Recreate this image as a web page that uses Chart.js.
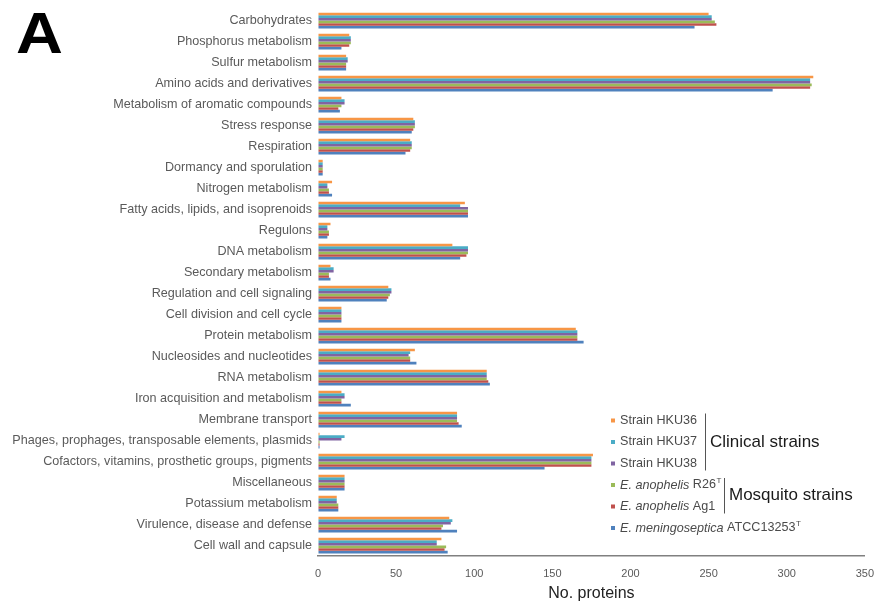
<!DOCTYPE html>
<html>
<head>
<meta charset="utf-8">
<script src="https://cdn.jsdelivr.net/npm/chart.js@4.4.1/dist/chart.umd.min.js"></script>
<style>
  html, body { margin: 0; padding: 0; background: #ffffff; }
  #wrap { width: 875px; height: 603px; }
</style>
</head>
<body>
<div id="wrap"><canvas id="c" width="875" height="603"></canvas></div>
<script>
// SEED subsystem categories, top to bottom
const categories = [
  'Carbohydrates',
  'Phosphorus metabolism',
  'Sulfur metabolism',
  'Amino acids and derivatives',
  'Metabolism of aromatic compounds',
  'Stress response',
  'Respiration',
  'Dormancy and sporulation',
  'Nitrogen metabolism',
  'Fatty acids, lipids, and isoprenoids',
  'Regulons',
  'DNA metabolism',
  'Secondary metabolism',
  'Regulation and cell signaling',
  'Cell division and cell cycle',
  'Protein metabolism',
  'Nucleosides and nucleotides',
  'RNA metabolism',
  'Iron acquisition and metabolism',
  'Membrane transport',
  'Phages, prophages, transposable elements, plasmids',
  'Cofactors, vitamins, prosthetic groups, pigments',
  'Miscellaneous',
  'Potassium metabolism',
  'Virulence, disease and defense',
  'Cell wall and capsule'
];

// Number of proteins per subsystem for each genome
const hku36 = [250, 20, 18, 317, 15, 61, 59, 3, 9, 94, 8, 86, 8, 45, 15, 165, 62, 108, 15, 89, 1, 176, 17, 12, 84, 79];
const hku37 = [252, 21, 19, 315, 17, 62, 60, 3, 6, 91, 6, 96, 10, 47, 15, 166, 59, 108, 17, 89, 17, 175, 17, 12, 86, 76];
const hku38 = [252, 21, 19, 315, 17, 62, 60, 3, 6, 96, 6, 96, 10, 47, 15, 166, 58, 108, 17, 89, 15, 175, 17, 12, 85, 76];
const r26   = [254, 21, 18, 316, 15, 62, 60, 3, 7, 96, 7, 96, 7, 46, 15, 166, 59, 108, 15, 89, 1, 175, 17, 13, 80, 82];
const ag1   = [255, 20, 18, 315, 13, 61, 59, 3, 7, 96, 7, 95, 7, 45, 15, 166, 59, 109, 15, 90, 1, 175, 17, 13, 79, 81];
const atcc  = [241, 15, 18, 291, 14, 60, 56, 3, 9, 96, 6, 91, 8, 44, 15, 170, 63, 110, 21, 92, 1, 145, 17, 13, 89, 83];

// Legend names: italic species part, upright strain part, type-strain superscript
const speciesNames = ['', '', '', 'E. anophelis', 'E. anophelis', 'E. meningoseptica'];
const strainNames  = ['Strain HKU36', 'Strain HKU37', 'Strain HKU38', 'R26', 'Ag1', 'ATCC13253'];
const typeMarks    = ['', '', '', 'T', '', 'T'];
const groupNames   = ['Clinical strains', 'Mosquito strains'];

// X axis
const xTicks = [0, 50, 100, 150, 200, 250, 300, 350];
const xTitle = 'No. proteins';
const panelLetter = 'A';

const seriesValues = [hku36, hku37, hku38, r26, ag1, atcc];
const seriesColors = ['#F79646', '#4BACC6', '#8064A2', '#9BBB59', '#C0504D', '#4F81BD'];
const FONT = '"Liberation Sans", Arial, Helvetica, sans-serif';

const datasets = seriesValues.map((vals, i) => ({
  label: (speciesNames[i] ? speciesNames[i] + ' ' : '') + strainNames[i] + typeMarks[i],
  data: vals,
  backgroundColor: seriesColors[i],
  borderWidth: 0,
  barPercentage: 1.0,
  categoryPercentage: 0.75
}));

// Strain legend with clinical / mosquito brackets, plus the panel letter
const strainLegend = {
  id: 'strainLegend',
  afterDraw(chart) {
    const ctx = chart.ctx;
    ctx.save();

    ctx.save();
    ctx.translate(16, 53);
    ctx.scale(1.12, 1);
    ctx.font = 'bold 58px ' + FONT;
    ctx.fillStyle = '#000000';
    ctx.textAlign = 'left';
    ctx.textBaseline = 'alphabetic';
    ctx.fillText(panelLetter, 0, 0);
    ctx.restore();

    const x0 = 613, y0 = 420.5, dy = 21.5;
    const rowY = i => y0 + i * dy;
    ctx.textAlign = 'left';
    ctx.textBaseline = 'middle';
    chart.data.datasets.forEach((ds, i) => {
      const y = rowY(i);
      ctx.fillStyle = ds.backgroundColor;
      ctx.fillRect(x0 - 2, y - 2, 4, 4);
      let x = x0 + 7;
      ctx.fillStyle = '#4a4a4a';
      if (speciesNames[i]) {
        ctx.font = 'italic 12.6px ' + FONT;
        const s = speciesNames[i] + ' ';
        ctx.fillText(s, x, y);
        x += ctx.measureText(s).width;
      }
      ctx.font = '12.6px ' + FONT;
      ctx.fillText(strainNames[i], x, y);
      x += ctx.measureText(strainNames[i]).width;
      if (typeMarks[i]) {
        ctx.font = '8px ' + FONT;
        ctx.fillText(typeMarks[i], x + 0.5, y - 4);
      }
    });

    const groups = [
      { name: groupNames[0], first: 0, last: 2, x: 705 },
      { name: groupNames[1], first: 3, last: 4, x: 724 }
    ];
    groups.forEach(g => {
      const yTop = rowY(g.first) - 7;
      const yBot = rowY(g.last) + 7;
      ctx.strokeStyle = '#555555';
      ctx.lineWidth = 1;
      ctx.beginPath();
      ctx.moveTo(g.x + 0.5, yTop);
      ctx.lineTo(g.x + 0.5, yBot);
      ctx.stroke();
      ctx.font = '17px ' + FONT;
      ctx.fillStyle = '#1a1a1a';
      ctx.fillText(g.name, g.x + 5, (rowY(g.first) + rowY(g.last)) / 2);
    });

    ctx.restore();
  }
};

new Chart(document.getElementById('c'), {
  type: 'bar',
  data: { labels: categories, datasets },
  plugins: [strainLegend],
  options: {
    indexAxis: 'y',
    responsive: false,
    animation: false,
    devicePixelRatio: 1,
    layout: { padding: { top: 10, left: 0, right: 0, bottom: 0 } },
    plugins: {
      legend: { display: false },
      tooltip: { enabled: false }
    },
    scales: {
      y: {
        type: 'category',
        grid: {
          display: true,
          drawOnChartArea: false,
          drawTicks: true,
          tickLength: 6,
          tickColor: 'rgba(0,0,0,0)',
          color: 'rgba(0,0,0,0)'
        },
        border: { display: false },
        ticks: {
          font: { family: FONT, size: 12.6 },
          color: '#5a5a5a',
          padding: 0,
          autoSkip: false
        },
        afterFit(scale) { scale.width = 318; }
      },
      x: {
        min: 0,
        max: 350,
        grid: {
          display: true,
          drawOnChartArea: false,
          drawTicks: true,
          tickLength: 10,
          tickColor: 'rgba(0,0,0,0)',
          color: 'rgba(0,0,0,0)'
        },
        border: { display: true, color: '#808080', width: 1.5 },
        afterBuildTicks(scale) { scale.ticks = xTicks.map(v => ({ value: v })); },
        ticks: {
          font: { family: FONT, size: 11 },
          color: '#5a5a5a',
          padding: 1
        },
        title: {
          display: true,
          text: xTitle,
          font: { family: FONT, size: 16 },
          color: '#222222',
          padding: { top: 0, bottom: 0 }
        },
        afterFit(scale) { scale.height = 47; }
      }
    }
  }
});
</script>
</body>
</html>
